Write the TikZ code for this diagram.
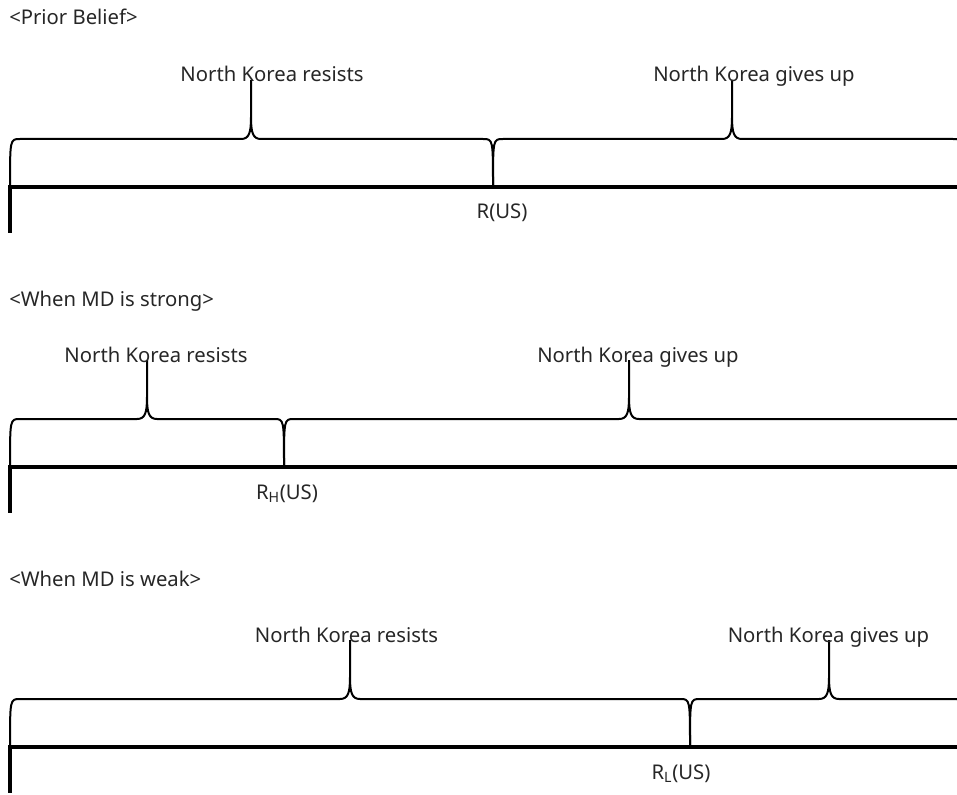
\documentclass[tikz,border=0pt]{standalone}
\usepackage{fontspec}
\setmainfont{Noto Sans}
% curly brace sitting on an axis: #1 left end, #2 right end, #3 tip x, #4 axis y, #5 tip top y
\newcommand\kbrace[5]{%
  \draw[bracecurve] (#1,#4) .. controls (#1,{#4-48}) .. ({#1+10},{#4-48})
    -- ({#3-10},{#4-48}) .. controls ({#3-2},{#4-48}) and (#3,{#4-54}) .. (#3,{#4-70}) -- (#3,#5)
    (#3,{#4-70}) .. controls (#3,{#4-54}) and ({#3+2},{#4-48}) .. ({#3+10},{#4-48})
    -- ({#2-10},{#4-48}) .. controls (#2,{#4-48}) .. (#2,#4);}
\begin{document}
\begin{tikzpicture}[x=0.75pt,y=-0.75pt,
  axisline/.style={line width=3pt},
  bracecurve/.style={line width=1.5pt},
  bracetext/.style={font=\fontsize{15.2}{18}\selectfont, text=black!85, inner sep=0pt, anchor=base},
  paneltitle/.style={font=\fontsize{15.2}{18}\selectfont, text=black!85, inner sep=0pt, anchor=base west}]
\useasboundingbox (0,0) rectangle (957,795);
\clip (0,0) rectangle (957,795);

% ---- prior belief ----
\node[paneltitle] (t1) at (9,25) {<Prior Belief>};
\kbrace{10}{493}{251}{187}{80}
\kbrace{493}{963}{732}{187}{80}
\draw[axisline] (8,187) -- (957,187);
\draw[axisline] (9.5,185.5) -- (9.5,233);
\node[bracetext] (r1) at (272,82) {North Korea resists};
\node[bracetext] (g1) at (754,82) {North Korea gives up};
\node[bracetext] (c1) at (502,219) {R(US)};

% ---- strong MD ----
\node[paneltitle] (t2) at (9,306) {<When MD is strong>};
\kbrace{10}{284}{147}{467}{360}
\kbrace{284}{963}{629}{467}{360}
\draw[axisline] (8,467) -- (957,467);
\draw[axisline] (9.5,465.5) -- (9.5,513);
\node[bracetext] (r2) at (156,362) {North Korea resists};
\node[bracetext] (g2) at (638,362) {North Korea gives up};
\node[bracetext] (c2) at (287,499) {R\textsubscript{H}(US)};

% ---- weak MD ----
\node[paneltitle] (t3) at (9,586) {<When MD is weak>};
\kbrace{10}{690}{350}{747}{640}
\kbrace{690}{963}{829}{747}{640}
\draw[axisline] (8,747) -- (957,747);
\draw[axisline] (9.5,745.5) -- (9.5,793);
\node[bracetext] (r3) at (346.5,642) {North Korea resists};
\node[bracetext] (g3) at (828.5,642) {North Korea gives up};
\node[bracetext] (c3) at (681,779) {R\textsubscript{L}(US)};
\end{tikzpicture}
\end{document}
